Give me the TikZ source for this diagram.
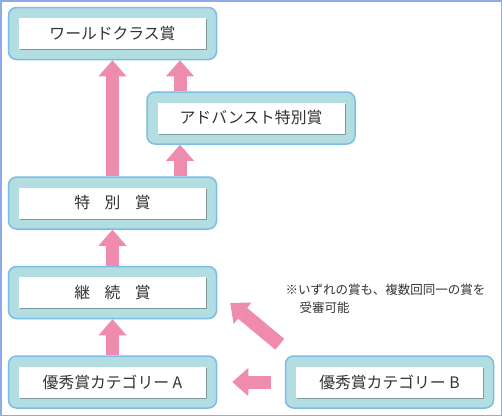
\documentclass[tikz,border=0pt]{standalone}
\usepackage{fontspec}
\newfontfamily\jp{Noto Sans CJK JP}
\usetikzlibrary{arrows.meta,shadows}
\definecolor{frameblue}{HTML}{8EAAE8}
\definecolor{boxfill}{HTML}{B3DEE1}
\definecolor{boxline}{HTML}{7CBDE8}
\definecolor{pinkarrow}{HTML}{EE8BAE}
\definecolor{txt}{HTML}{333333}
\tikzset{
  outerbox/.style={draw=boxline, line width=1.5pt, fill=boxfill, rounded corners=8pt,
    minimum width=208pt, minimum height=52pt, inner sep=0pt},
  innerbox/.style={fill=white, minimum width=187pt, minimum height=31pt, inner sep=0pt,
    text=txt, font=\jp\fontsize{15.8}{18}\selectfont,
    drop shadow={shadow xshift=1pt, shadow yshift=-1.2pt, fill=black, opacity=0.3}},
  bigarrow/.style={draw=pinkarrow, line width=13pt,
    -{Triangle[width=28pt,length=16pt,line width=0pt]}},
  notetext/.style={font=\jp\fontsize{12.5}{18}\selectfont, text=txt, align=left,
    inner sep=0pt},
}
\begin{document}
\begin{tikzpicture}[x=1pt,y=-1pt]
\useasboundingbox (0,0) rectangle (502,416);
\fill[white] (0,0) rectangle (502,416);
\draw[frameblue, line width=1.5pt] (0.75,0.75) rectangle (501.25,415.25);

\node[outerbox] (world) at (112.5,33.5) {};
\node[innerbox] (worldin) at (world.center) {ワールドクラス賞};

\node[outerbox] (adv) at (251,118) {};
\node[innerbox] (advin) at (adv.center) {アドバンスト特別賞};

\node[outerbox] (spec) at (112.5,203) {};
\node[innerbox] (specin) at (spec.center) {特\hspace{14.5pt}別\hspace{14.5pt}賞};

\node[outerbox] (cont) at (112.5,292.5) {};
\node[innerbox] (contin) at (cont.center) {継\hspace{14.5pt}続\hspace{14.5pt}賞};

\node[outerbox] (catA) at (112.5,382) {};
\node[innerbox] (catAin) at (catA.center) {優秀賞カテゴリー A};

\node[outerbox] (catB) at (389.5,382) {};
\node[innerbox] (catBin) at (catB.center) {優秀賞カテゴリー B};

\node[notetext, anchor=north west] (note) at (285.5,284)
  {※いずれの賞も、複数回同一の賞を\\\hspace*{14pt}受審可能};

\coordinate (a2) at ([xshift=-71pt]adv.north);
\coordinate (dtip) at ([shift={(13,10.5)}]cont.east);
\coordinate (dtail) at ([shift={(-5,-11)}]catB.north west);

\draw[bigarrow] (spec.north) -- (world.south);
\draw[bigarrow] (a2) -- (a2 |- world.south);
\draw[bigarrow] (a2 |- spec.north) -- (a2 |- adv.south);
\draw[bigarrow] (cont.north) -- (spec.south);
\draw[bigarrow] (catA.north) -- (cont.south);
\draw[bigarrow] ([xshift=-14pt]catB.west) -- ([xshift=15pt]catA.east);
\draw[bigarrow, line width=14pt] (dtail) -- (dtip);
\end{tikzpicture}
\end{document}
